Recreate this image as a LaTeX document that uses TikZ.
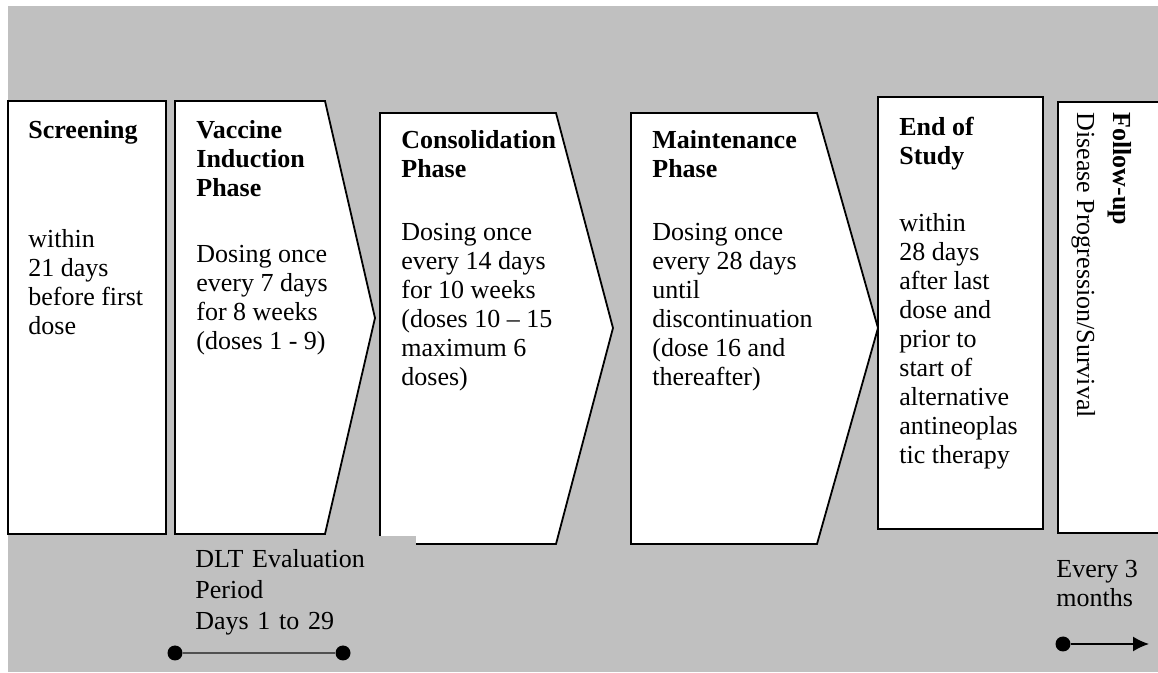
\documentclass[tikz,border=0pt]{standalone}
\usepackage{fontspec}
\setmainfont{Liberation Serif}
\usepackage{xcolor}
\usepackage{tikz}
\usetikzlibrary{arrows.meta}
\definecolor{bg}{HTML}{C0C0C0}
\definecolor{boxline}{HTML}{000000}
\definecolor{span}{HTML}{505050}
\tikzset{
  phase/.style={draw=boxline, line width=0.9pt, fill=white},
  head/.style={anchor=north west, inner sep=0pt, align=left, font=\fontsize{13}{14.5}\selectfont\bfseries},
  body/.style={anchor=north west, inner sep=0pt, align=left, font=\fontsize{13}{14.5}\selectfont},
  bullet/.style={circle, fill=black, inner sep=0pt, minimum size=7.5pt}
}

\begin{document}
\begin{tikzpicture}[x=0.5pt, y=-0.5pt]
  \useasboundingbox (0,0) rectangle (1158,673);
  \fill[bg] (8,6) rectangle (1158,672);

  % phase boxes, left to right
  \draw[phase] (8,101) rectangle (166,534);
  \draw[phase] (175,101) -- (325,101) -- (375,318) -- (325,534) -- (175,534) -- cycle;
  \draw[phase] (380,113) -- (556,113) -- (613,328) -- (556,544) -- (380,544) -- cycle;
  \draw[phase] (631,113) -- (817,113) -- (878,328) -- (817,544) -- (631,544) -- cycle;
  \draw[phase] (878,97) rectangle (1043,529);

  % follow-up box runs off the right edge
  \fill[white] (1058,102) rectangle (1158,533);
  \draw[boxline, line width=0.9pt] (1158,102) -- (1058,102) -- (1058,533) -- (1158,533);

  % Titles
  \node[head] (scrH) at (28,120) {Screening};
  \node[head] (vacH) at (196,120) {Vaccine\\Induction\\Phase};
  \node[head] (conH) at (401,130) {Consolidation\\Phase};
  \node[head] (maiH) at (652,130) {Maintenance\\Phase};
  \node[head] (eosH) at (899,117) {End of\\Study};
  \node[head, rotate=-90, anchor=base west] (fupH) at (1113,112) {Follow-up};

  % Texts
  \node[body] (scrB) at (28,229) {within\\21 days\\before first\\dose};
  \node[body] (vacB) at (196,245) {Dosing once\\every 7 days\\for 8 weeks\\(doses 1 - 9)};
  \node[body] (conB) at (401,223) {Dosing once\\every 14 days\\for 10 weeks\\(doses 10 -- 15\\maximum 6\\doses)};
  \node[body] (maiB) at (652,223) {Dosing once\\every 28 days\\until\\discontinuation\\(dose 16 and\\thereafter)};
  \node[body] (eosB) at (899,213) {within\\28 days\\after last\\dose and\\prior to\\start of\\alternative\\antineoplas\\tic therapy};
  \node[body, rotate=-90, anchor=base west] (fupB) at (1077,112) {Disease Progression/Survival};

  % DLT window (its box hides a corner of the next phase)
  \node[body, fill=bg, text width=103pt, inner xsep=7.5pt, inner ysep=7pt,
        font=\fontsize{13}{15.5}\selectfont] (dlt) at (180,535.5)
        {DLT Evaluation\\Period\\Days 1 to 29};
  \node[bullet] (dltL) at (175,653) {};
  \node[bullet] (dltR) at (343,653) {};
  \draw[span, line width=1pt] (dltL) -- (dltR);

  % follow-up interval
  \node[body] (every) at (1056,560) {Every 3\\months};
  \node[bullet] (fupL) at (1063,644) {};
  \coordinate (fupR) at (1149,644);
  \draw[line width=0.8pt, -{Latex[length=8pt,width=7.5pt]}] (fupL) -- (fupR);
\end{tikzpicture}
\end{document}
